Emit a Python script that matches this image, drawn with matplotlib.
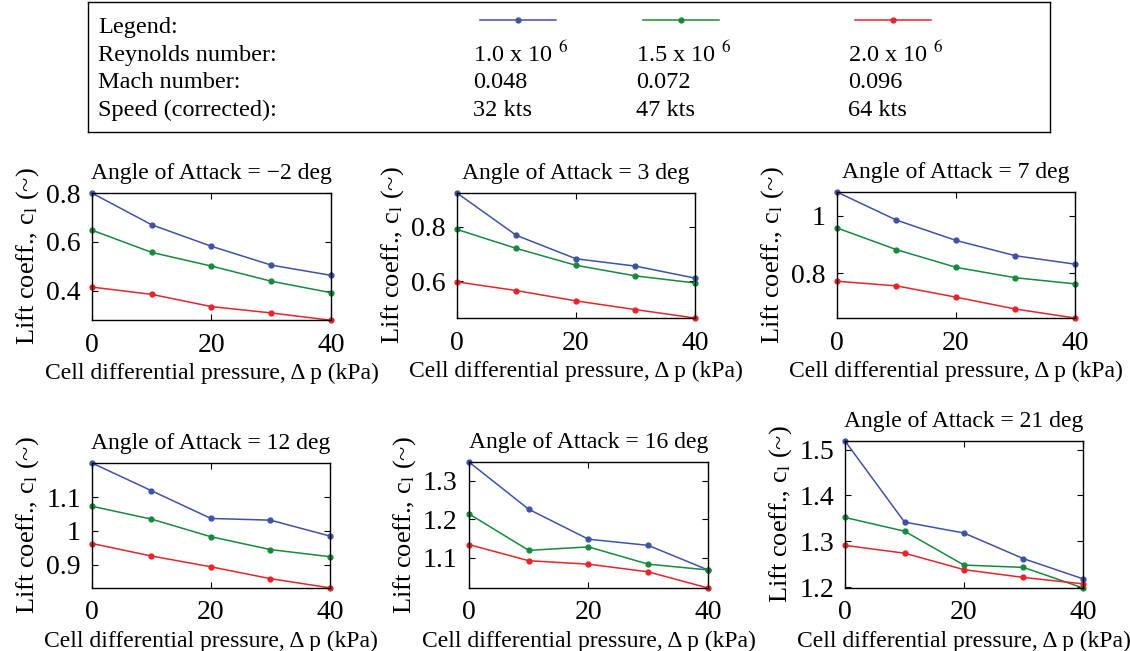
import matplotlib.pyplot as plt

plt.rcParams["font.family"] = ["Liberation Serif", "DejaVu Serif"]
plt.rcParams["mathtext.fontset"] = "stix"

# cell differential pressure (kPa)
dp = [0, 10, 20, 30, 40]

angles = [-2, 3, 7, 12, 16, 21]

# lift coefficient per angle: Re 1.0e6 / 1.5e6 / 2.0e6
cl_re10 = [
    [0.800, 0.670, 0.582, 0.505, 0.463],
    [0.925, 0.769, 0.683, 0.656, 0.612],
    [1.081, 0.984, 0.914, 0.861, 0.832],
    [1.201, 1.119, 1.037, 1.032, 0.985],
    [1.349, 1.226, 1.148, 1.132, 1.068],
    [1.519, 1.342, 1.318, 1.262, 1.218],
]
cl_re15 = [
    [0.648, 0.557, 0.501, 0.439, 0.392],
    [0.791, 0.721, 0.659, 0.620, 0.594],
    [0.957, 0.882, 0.821, 0.785, 0.764],
    [1.073, 1.035, 0.983, 0.945, 0.924],
    [1.214, 1.119, 1.128, 1.083, 1.068],
    [1.352, 1.322, 1.248, 1.243, 1.198],
]
cl_re20 = [
    [0.415, 0.385, 0.335, 0.309, 0.279],
    [0.598, 0.566, 0.528, 0.496, 0.465],
    [0.773, 0.757, 0.718, 0.677, 0.646],
    [0.963, 0.926, 0.894, 0.859, 0.832],
    [1.134, 1.092, 1.083, 1.063, 1.021],
    [1.291, 1.274, 1.238, 1.221, 1.207],
]

ylims = [(0.28, 0.80), (0.465, 0.925), (0.646, 1.081),
         (0.8315, 1.201), (1.021, 1.349), (1.198, 1.519)]
yticks = [[0.4, 0.6, 0.8], [0.6, 0.8], [0.8, 1.0],
          [0.9, 1.0, 1.1], [1.1, 1.2, 1.3], [1.2, 1.3, 1.4, 1.5]]
yticklabels = [["0.4", "0.6", "0.8"], ["0.6", "0.8"], ["0.8", "1"],
               ["0.9", "1", "1.1"], ["1.1", "1.2", "1.3"], ["1.2", "1.3", "1.4", "1.5"]]

re_labels = ["1.0 x 10 $^{6}$", "1.5 x 10 $^{6}$", "2.0 x 10 $^{6}$"]
mach = ["0.048", "0.072", "0.096"]
speed = ["32 kts", "47 kts", "64 kts"]

colors = ["#3f52a8", "#168a3c", "#e8232b"]

fig = plt.figure(figsize=(11.3, 6.51), dpi=100)

boxes = [
    [0.0814, 0.5084, 0.2115, 0.195],
    [0.4044, 0.5115, 0.2106, 0.192],
    [0.7407, 0.5115, 0.2106, 0.1935],
    [0.0814, 0.0968, 0.2106, 0.192],
    [0.4150, 0.0968, 0.2115, 0.1935],
    [0.7478, 0.0968, 0.2106, 0.2258],
]

for i, ang in enumerate(angles):
    ax = fig.add_axes(boxes[i])
    for ys, c in zip([cl_re10[i], cl_re15[i], cl_re20[i]], colors):
        ax.plot(dp, ys, color=c, lw=1.1, marker="o", ms=3.5, clip_on=False)
    ax.set_xlim(0, 40)
    ax.set_ylim(*ylims[i])
    ax.set_xticks([0, 20, 40])
    ax.set_yticks(yticks[i])
    ax.set_yticklabels(yticklabels[i])
    ax.tick_params(direction="in", top=True, right=True, labelsize=20,
                   length=4, width=0.8)
    ax.tick_params(axis="x", pad=9)
    ax.tick_params(axis="y", pad=8)
    for s in ax.spines.values():
        s.set_linewidth(1.0)
    t = "Angle of Attack = %s deg" % str(ang).replace("-", "\u2212")
    ax.set_title(t, fontsize=17, pad=10)
    ax.set_ylabel(r"Lift coeff., c$_\mathrm{l}$ (~)", fontsize=19, labelpad=4)
    ax.set_xlabel("Cell differential pressure, \u0394 p (kPa)", fontsize=17, labelpad=4)

# legend table at the top
lax = fig.add_axes([88 / 1130, 1 - 132 / 651, 962 / 1130, 130 / 651])
lax.set_xlim(0, 962)
lax.set_ylim(130, 0)
lax.set_xticks([])
lax.set_yticks([])
for s in lax.spines.values():
    s.set_linewidth(1.0)

rows = ["Legend:", "Reynolds number:", "Mach number:", "Speed (corrected):"]
row_y = [26, 54, 81, 108]
fs = 17.5
for lab, y in zip(rows, row_y):
    lax.text(10, y, lab, fontsize=fs, va="center", ha="left")

col_x = [385, 548, 760]
for j in range(3):
    x0 = col_x[j] + 7
    lax.plot([x0, x0 + 76], [18, 18], color=colors[j], lw=1.1)
    lax.plot([x0 + 38], [18], color=colors[j], marker="o", ms=3.5)
    lax.text(col_x[j], row_y[1] - 2, re_labels[j], fontsize=fs, va="center", ha="left")
    lax.text(col_x[j], row_y[2], mach[j], fontsize=fs, va="center", ha="left")
    lax.text(col_x[j], row_y[3], speed[j], fontsize=fs, va="center", ha="left")

fig.savefig("out.png", dpi=100)
